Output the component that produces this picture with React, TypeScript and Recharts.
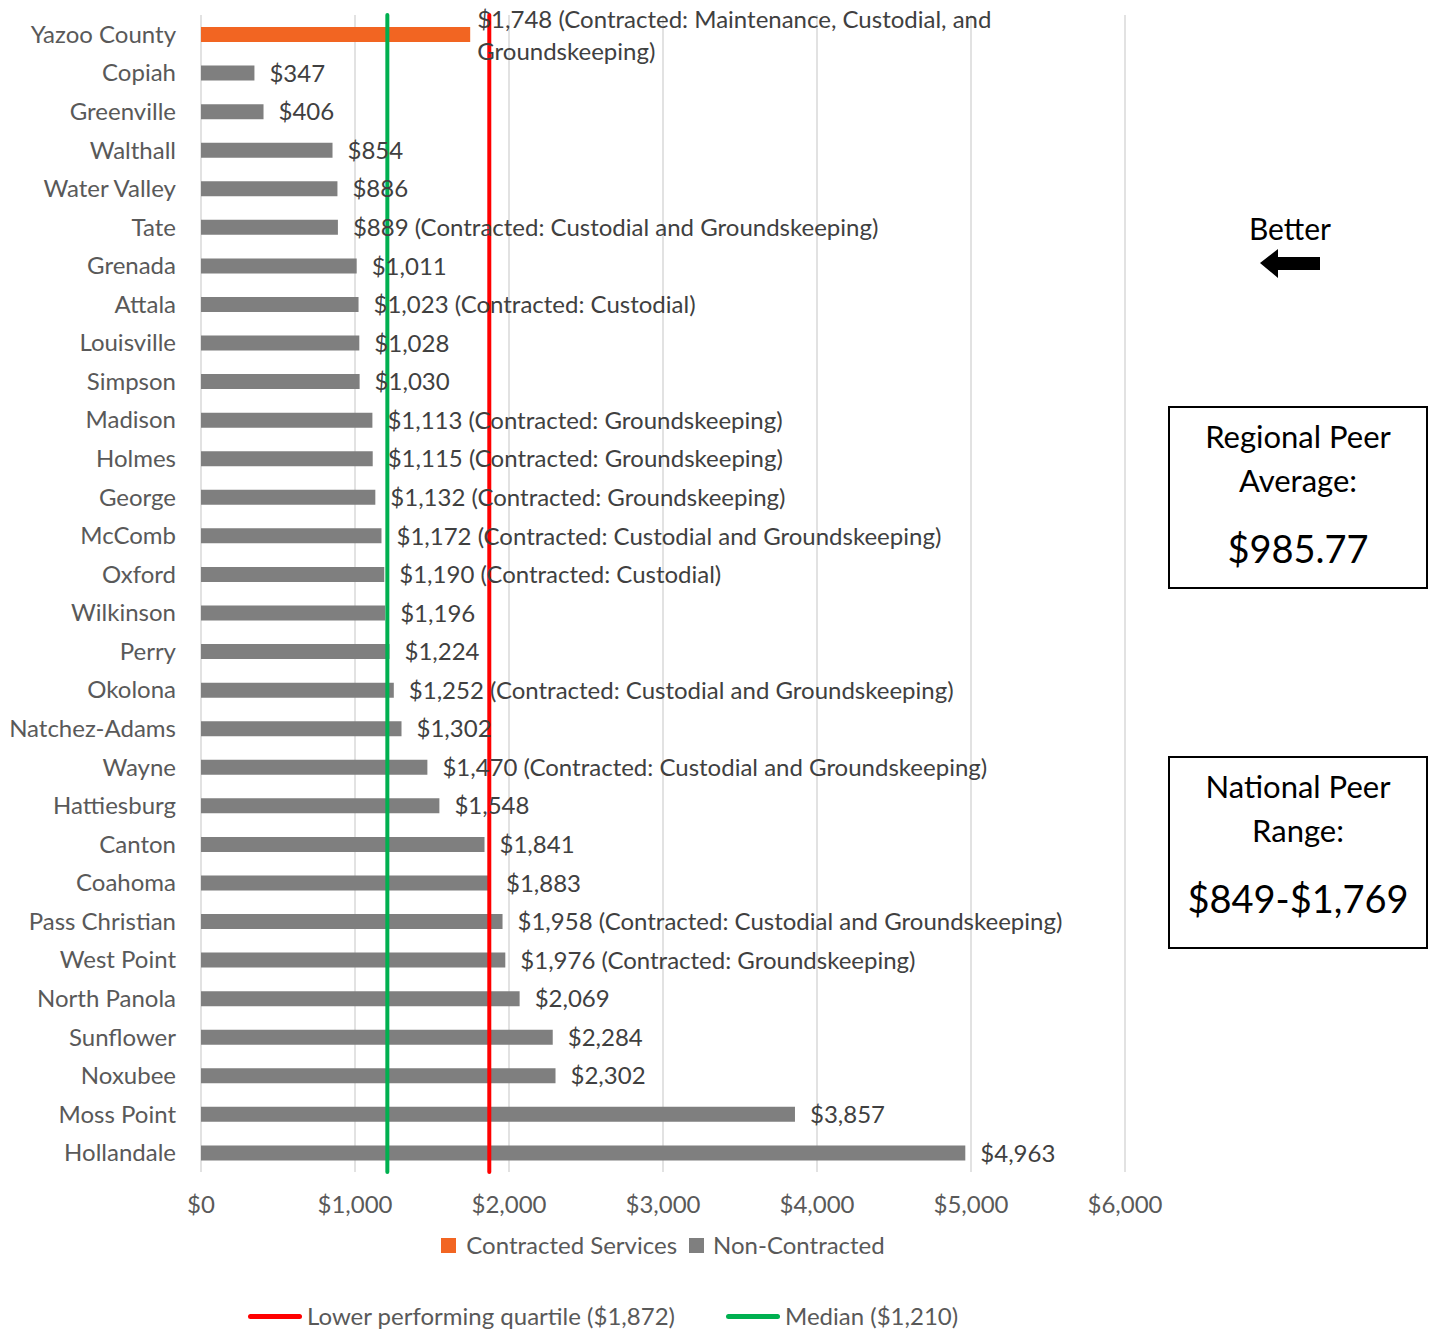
import {
  Bar,
  BarChart,
  CartesianGrid,
  Cell,
  LabelList,
  Legend,
  ReferenceLine,
  XAxis,
  YAxis,
} from "recharts";

// Facilities cost per student by district, sorted low to high
const districts = [
  "Yazoo County",
  "Copiah",
  "Greenville",
  "Walthall",
  "Water Valley",
  "Tate",
  "Grenada",
  "Attala",
  "Louisville",
  "Simpson",
  "Madison",
  "Holmes",
  "George",
  "McComb",
  "Oxford",
  "Wilkinson",
  "Perry",
  "Okolona",
  "Natchez-Adams",
  "Wayne",
  "Hattiesburg",
  "Canton",
  "Coahoma",
  "Pass Christian",
  "West Point",
  "North Panola",
  "Sunflower",
  "Noxubee",
  "Moss Point",
  "Hollandale",
];

const costs = [
  1748, 347, 406, 854, 886, 889, 1011, 1023, 1028, 1030, 1113, 1115, 1132, 1172, 1190,
  1196, 1224, 1252, 1302, 1470, 1548, 1841, 1883, 1958, 1976, 2069, 2284, 2302, 3857, 4963,
];

// which services each district contracts out ("" = none)
const contractedNotes = [
  "Maintenance, Custodial, and Groundskeeping",
  "",
  "",
  "",
  "",
  "Custodial and Groundskeeping",
  "",
  "Custodial",
  "",
  "",
  "Groundskeeping",
  "Groundskeeping",
  "Groundskeeping",
  "Custodial and Groundskeeping",
  "Custodial",
  "",
  "",
  "Custodial and Groundskeeping",
  "",
  "Custodial and Groundskeeping",
  "",
  "",
  "",
  "Custodial and Groundskeeping",
  "Groundskeeping",
  "",
  "",
  "",
  "",
  "",
];

const focusDistrict = "Yazoo County";
const xTicks = [0, 1000, 2000, 3000, 4000, 5000, 6000];
const lowerQuartile = 1872;
const median = 1210;
const regionalAverage = 985.77;
const nationalRange = [849, 1769];

const ORANGE = "#F26522";
const GRAY = "#7F7F7F";
const RED = "#FF0000";
const GREEN = "#00B050";
const FONT = "Lato, 'Noto Sans', sans-serif";
const FS = 24;
const PLOT_RIGHT = 1125;

const money = (v: number) => "$" + v.toLocaleString("en-US");

const rows = districts.map((name, i) => ({
  name,
  cost: costs[i],
  label:
    money(costs[i]) + (contractedNotes[i] ? ` (Contracted: ${contractedNotes[i]})` : ""),
}));

// rough average glyph width at FS
const CHAR_W = 12.4;

function wrapText(text: string, maxChars: number) {
  const words = text.split(" ");
  const lines: string[] = [];
  let cur = "";
  for (const w of words) {
    const next = cur ? cur + " " + w : w;
    if (next.length > maxChars && cur) {
      lines.push(cur);
      cur = w;
    } else cur = next;
  }
  if (cur) lines.push(cur);
  return lines;
}

function ValueLabel(props: any) {
  const { x, y, width, height, value } = props;
  const text = String(value);
  const cy = Number(y) + Number(height) / 2;
  const end = Number(x) + Number(width);
  const fits = end + 15 + text.length * CHAR_W <= PLOT_RIGHT + 10;
  if (fits) {
    return (
      <text x={end + 15} y={cy} dy="0.36em" fill="#404040" fontSize={FS} fontFamily={FONT}>
        {text}
      </text>
    );
  }
  // too long for the plot: wrap and tuck it next to the bar end
  const start = end + 7;
  const lines = wrapText(text, Math.floor((PLOT_RIGHT + 10 - start) / CHAR_W));
  const top = cy + 1 - ((lines.length - 1) * 32) / 2;
  return (
    <text x={start} y={top} fill="#404040" fontSize={FS} fontFamily={FONT}>
      {lines.map((l, i) => (
        <tspan key={i} x={start} y={top + i * 32} dy="0.36em">
          {l}
        </tspan>
      ))}
    </text>
  );
}

function LegendRows() {
  const txt = { color: "#595959", fontSize: FS, fontFamily: FONT, lineHeight: "28px" };
  const square = (c: string) => (
    <span style={{ width: 15, height: 15, background: c, display: "inline-block" }} />
  );
  const line = (c: string) => (
    <span
      style={{ width: 54, height: 5, borderRadius: 3, background: c, display: "inline-block" }}
    />
  );
  return (
    <div style={{ position: "relative", width: 1435, height: 100 }}>
      <div
        style={{
          position: "absolute",
          left: 201,
          width: 924,
          top: 0,
          display: "flex",
          justifyContent: "center",
          alignItems: "center",
          ...txt,
        }}
      >
        {square(ORANGE)}
        <span style={{ marginLeft: 10, marginRight: 12 }}>Contracted Services</span>
        {square(GRAY)}
        <span style={{ marginLeft: 9 }}>Non-Contracted</span>
      </div>
      <div
        style={{
          position: "absolute",
          left: 248,
          top: 71,
          display: "flex",
          alignItems: "center",
          ...txt,
        }}
      >
        {line(RED)}
        <span style={{ marginLeft: 5, marginRight: 51 }}>
          Lower performing quartile ({money(lowerQuartile)})
        </span>
        {line(GREEN)}
        <span style={{ marginLeft: 5 }}>Median ({money(median)})</span>
      </div>
    </div>
  );
}

function InfoBox({
  top,
  height,
  title,
  value,
}: {
  top: number;
  height: number;
  title: string[];
  value: string;
}) {
  return (
    <div
      style={{
        position: "absolute",
        left: 1168,
        top,
        width: 256,
        height,
        border: "2px solid #000",
        fontFamily: FONT,
        color: "#000",
        textAlign: "center",
      }}
    >
      <div style={{ fontSize: 31, lineHeight: "44px", marginTop: 6 }}>
        {title.map((t) => (
          <div key={t}>{t}</div>
        ))}
      </div>
      <div style={{ fontSize: 38, lineHeight: "50px", marginTop: 21 }}>{value}</div>
    </div>
  );
}

export default function App() {
  return (
    <div
      style={{
        position: "absolute",
        left: 0,
        top: 0,
        width: 1435,
        height: 1332,
        background: "#fff",
      }}
    >
      <BarChart
        width={1435}
        height={1332}
        data={rows}
        layout="vertical"
        margin={{ top: 15, right: 310, bottom: 130, left: 0 }}
        barSize={15}
      >
        <CartesianGrid horizontal={false} stroke="#D9D9D9" strokeWidth={1.5} />
        <XAxis
          type="number"
          domain={[0, 6000]}
          ticks={xTicks}
          tickFormatter={money}
          axisLine={false}
          tickLine={false}
          tickSize={0}
          tickMargin={24}
          height={30}
          tick={{ fill: "#595959", fontSize: FS, fontFamily: FONT }}
        />
        <YAxis
          type="category"
          dataKey="name"
          width={201}
          axisLine={false}
          tickLine={false}
          tickSize={0}
          tickMargin={25}
          interval={0}
          tick={{ fill: "#595959", fontSize: FS, fontFamily: FONT }}
        />
        <Bar dataKey="cost" isAnimationActive={false}>
          {rows.map((r) => (
            <Cell key={r.name} fill={r.name === focusDistrict ? ORANGE : GRAY} />
          ))}
          <LabelList dataKey="label" content={ValueLabel} />
        </Bar>
        <ReferenceLine x={median} stroke={GREEN} strokeWidth={4} strokeLinecap="round" />
        <ReferenceLine x={lowerQuartile} stroke={RED} strokeWidth={4} strokeLinecap="round" />
        <Legend
          layout="horizontal"
          verticalAlign="middle"
          align="center"
          content={() => <LegendRows />}
          wrapperStyle={{ top: 1231, left: 0, width: 1435 }}
        />
      </BarChart>

      <div
        style={{
          position: "absolute",
          left: 1200,
          top: 209,
          width: 180,
          textAlign: "center",
          fontFamily: FONT,
          fontSize: 30,
          lineHeight: "38px",
          color: "#000",
        }}
      >
        Better
      </div>
      <svg style={{ position: "absolute", left: 1255, top: 246 }} width={70} height={40}>
        <polygon points="5,17 23,3 23,11 65,11 65,24 23,24 23,32" fill="#000" />
      </svg>

      <InfoBox
        top={406}
        height={179}
        title={["Regional Peer", "Average:"]}
        value={money(regionalAverage)}
      />
      <InfoBox
        top={756}
        height={189}
        title={["National Peer", "Range:"]}
        value={`${money(nationalRange[0])}-${money(nationalRange[1])}`}
      />
    </div>
  );
}
